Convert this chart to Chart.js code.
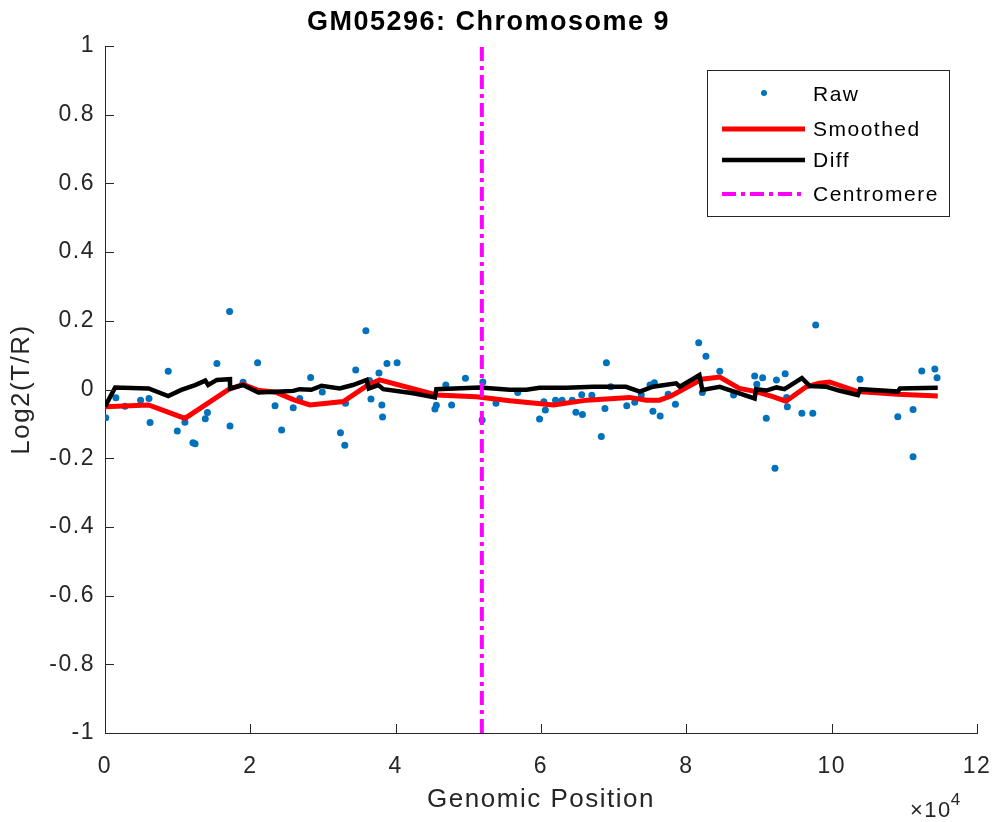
<!DOCTYPE html>
<html>
<head>
<meta charset="utf-8">
<title>GM05296: Chromosome 9</title>
<script src="https://cdn.jsdelivr.net/npm/chart.js@4.4.1/dist/chart.umd.min.js"></script>
<style>
    html, body { margin: 0; padding: 0; background: #fff; }
    #wrap { width: 993px; height: 822px; }
</style>
</head>
<body>
<div id="wrap"><canvas id="dataChart" width="993" height="822"></canvas></div>
<script>
// Raw log2 ratios (x in units of 10^4 bases)
const rawX = [0.01, 0.15, 0.275, 0.49, 0.605, 0.62, 0.87, 0.995, 1.10, 1.21, 1.24, 1.38, 1.41, 1.54, 1.715, 1.72, 1.90, 2.10,
    2.34, 2.43, 2.59, 2.68, 2.83, 2.99, 3.24, 3.30, 3.31, 3.45, 3.59, 3.64, 3.66, 3.77, 3.81, 3.82, 3.88, 4.02, 4.54, 4.56,
    4.69, 4.77, 4.96, 5.19, 5.20, 5.38, 5.68, 5.98, 6.04, 6.06, 6.20, 6.29, 6.43, 6.48, 6.56, 6.57, 6.70, 6.83, 6.88, 6.90,
    6.96, 7.18, 7.29, 7.38, 7.50, 7.54, 7.56, 7.64, 7.75, 7.85, 8.17, 8.22, 8.27, 8.46, 8.65, 8.94, 8.97, 9.05, 9.10, 9.22,
    9.24, 9.36, 9.38, 9.39, 9.59, 9.74, 9.78, 10.39, 10.91, 11.12, 11.12, 11.24, 11.42, 11.45];
const rawY = [-0.082, -0.024, -0.049, -0.031, -0.026, -0.096, 0.053, -0.121, -0.095, -0.155, -0.158, -0.085, -0.067, 0.076, 0.227, -0.106, 0.021, 0.078,
    -0.047, -0.118, -0.053, -0.026, 0.035, -0.007, -0.126, -0.162, -0.040, 0.057, 0.171, 0.026, -0.028, 0.048, -0.045, -0.080, 0.076, 0.078, -0.057, -0.046,
    0.013, -0.045, 0.033, -0.089, 0.022, -0.040, -0.009, -0.086, -0.036, -0.060, -0.031, -0.031, -0.031, -0.066, -0.015, -0.073, -0.017, -0.137, -0.055, 0.078,
    0.008, -0.047, -0.037, -0.016, 0.013, -0.063, 0.020, -0.077, -0.014, -0.043, 0.136, -0.009, 0.097, 0.053, -0.016, 0.039, 0.015, 0.034, -0.084, -0.229,
    0.028, 0.046, -0.023, -0.050, -0.069, -0.069, 0.188, 0.030, -0.079, -0.058, -0.196, 0.054, 0.060, 0.034];

// Smoothed curve
const smoothX = [0, 0.6, 1.1, 1.7, 1.9, 2.1, 2.35, 2.6, 2.82, 3.28, 3.62, 3.78, 4.56, 5.11, 5.57, 6.17, 6.63, 7.22, 7.45, 7.63,
    7.79, 8.21, 8.46, 8.73, 8.96, 9.19, 9.37, 9.65, 9.83, 9.97, 10.36, 10.91, 11.46];
const smoothY = [-0.05, -0.045, -0.084, 0.0, 0.015, -0.002, -0.008, -0.03, -0.045, -0.035, 0.013, 0.028, -0.016, -0.021, -0.033, -0.045, -0.031, -0.023, -0.031, -0.031,
    -0.019, 0.030, 0.036, 0.003, -0.006, -0.021, -0.034, 0.008, 0.018, 0.022, -0.006, -0.014, -0.019];

// Diff curve
const diffX = [0, 0.14, 0.6, 0.87, 1.05, 1.24, 1.38, 1.42, 1.54, 1.72, 1.721, 1.9, 2.11, 2.43, 2.59, 2.68, 2.84, 2.98, 3.23, 3.41,
    3.60, 3.63, 3.76, 3.83, 4.24, 4.54, 4.56, 5.16, 5.57, 5.80, 5.98, 6.35, 6.72, 7.17, 7.36, 7.54, 7.86, 7.91, 8.18, 8.22,
    8.46, 8.73, 8.94, 8.96, 9.10, 9.24, 9.35, 9.59, 9.70, 9.93, 10.1, 10.36, 10.39, 10.91, 10.94, 11.46];
const diffY = [-0.05, 0.006, 0.003, -0.019, -0.001, 0.013, 0.026, 0.013, 0.028, 0.030, 0.003, 0.013, -0.009, -0.006, -0.004, 0.001, -0.001, 0.011, 0.003, 0.013,
    0.028, 0.003, 0.013, 0.001, -0.011, -0.023, 0.001, 0.006, -0.001, -0.001, 0.005, 0.005, 0.008, 0.008, -0.006, 0.008, 0.018, 0.008, 0.042, -0.001,
    0.008, -0.011, -0.026, 0.001, -0.003, 0.006, 0.001, 0.033, 0.010, 0.008, -0.003, -0.016, 0.001, -0.006, 0.003, 0.005];

const centromereX = 5.186;
const xTicks = [0, 2, 4, 6, 8, 10, 12];
const yTicks = [-1, -0.8, -0.6, -0.4, -0.2, 0, 0.2, 0.4, 0.6, 0.8, 1];
const legendLabels = ['Raw', 'Smoothed', 'Diff', 'Centromere'];

const SCALE = 1e4;
const FONT = "'Liberation Sans', Arial, Helvetica, sans-serif";
const AXIS_COLOR = '#262626';

function toPoints(xs, ys) {
    return xs.map((x, i) => ({ x: x * SCALE, y: ys[i] }));
}

// MATLAB-like text spacing
const textSpacing = {
    id: 'textSpacing',
    beforeUpdate(chart) { chart.ctx.letterSpacing = '1.5px'; },
    beforeDraw(chart) { chart.ctx.letterSpacing = '1.5px'; }
};

// inward ticks, legend box and the x10^4 exponent
const matlabAxes = {
    id: 'matlabAxes',
    afterDraw(chart) {
        const ctx = chart.ctx;
        const area = chart.chartArea;
        const xs = chart.scales.x;
        const ys = chart.scales.y;
        ctx.save();
        ctx.strokeStyle = AXIS_COLOR;
        ctx.lineWidth = 1;
        ctx.beginPath();
        xTicks.forEach(t => {
            const px = Math.round(xs.getPixelForValue(t * SCALE)) + 0.5;
            ctx.moveTo(px, area.bottom);
            ctx.lineTo(px, area.bottom - 9);
        });
        yTicks.forEach(t => {
            const py = Math.round(ys.getPixelForValue(t)) + 0.5;
            ctx.moveTo(area.left, py);
            ctx.lineTo(area.left + 9, py);
        });
        ctx.stroke();

        // legend
        const lx = area.right - 270, ly = area.top + 24, lw = 242, lh = 146;
        ctx.fillStyle = '#fff';
        ctx.fillRect(lx, ly, lw, lh);
        ctx.strokeStyle = AXIS_COLOR;
        ctx.strokeRect(Math.round(lx) + 0.5, Math.round(ly) + 0.5, lw, lh);
        const rows = [25, 60, 91, 125];
        ctx.font = '21px ' + FONT;
        ctx.textBaseline = 'middle';
        ctx.textAlign = 'left';
        chart.data.datasets.forEach((ds, i) => {
            const y = ly + rows[i];
            if (ds.showLine) {
                ctx.strokeStyle = ds.borderColor;
                ctx.lineWidth = ds.borderWidth;
                ctx.setLineDash(ds.borderDash || []);
                ctx.beginPath();
                ctx.moveTo(lx + 15, y - 1);
                ctx.lineTo(lx + 98, y - 1);
                ctx.stroke();
                ctx.setLineDash([]);
            } else {
                ctx.fillStyle = ds.backgroundColor;
                ctx.beginPath();
                ctx.arc(lx + 57, y - 2, 3, 0, Math.PI * 2);
                ctx.fill();
            }
            ctx.fillStyle = '#000';
            ctx.fillText(ds.label, lx + 106, y);
        });

        // exponent label
        ctx.fillStyle = AXIS_COLOR;
        ctx.textBaseline = 'alphabetic';
        ctx.font = '22px ' + FONT;
        ctx.fillText('\u00d710', 910, 817);
        const w = ctx.measureText('\u00d710').width;
        ctx.font = '17px ' + FONT;
        ctx.fillText('4', 909 + w, 805);
        ctx.restore();
    }
};

const ctx = document.getElementById('dataChart').getContext('2d');

new Chart(ctx, {
    type: 'scatter',
    data: {
        datasets: [{
            label: legendLabels[0],
            data: toPoints(rawX, rawY),
            backgroundColor: '#0072BD',
            borderColor: '#0072BD',
            pointRadius: 3.5,
            pointBorderWidth: 0,
            showLine: false,
            order: 4
        }, {
            label: legendLabels[1],
            data: toPoints(smoothX, smoothY),
            borderColor: '#FF0000',
            backgroundColor: '#FF0000',
            borderWidth: 5,
            pointRadius: 0,
            showLine: true,
            order: 3
        }, {
            label: legendLabels[2],
            data: toPoints(diffX, diffY),
            borderColor: '#000000',
            backgroundColor: '#000000',
            borderWidth: 4.5,
            pointRadius: 0,
            showLine: true,
            order: 2
        }, {
            label: legendLabels[3],
            data: [{ x: centromereX * SCALE, y: -1 }, { x: centromereX * SCALE, y: 1 }],
            borderColor: '#FF00FF',
            backgroundColor: '#FF00FF',
            borderWidth: 4,
            borderDash: [14, 5, 4, 5],
            pointRadius: 0,
            showLine: true,
            order: 1
        }]
    },
    options: {
        responsive: false,
        animation: false,
        devicePixelRatio: 1,
        layout: { padding: { left: 0, right: 16, top: 0, bottom: 0 } },
        plugins: {
            legend: { display: false },
            tooltip: { enabled: false },
            title: {
                display: true,
                text: 'GM05296: Chromosome 9',
                color: '#000',
                font: { family: FONT, size: 27, weight: 'bold', lineHeight: 1.2 },
                padding: { top: 6, bottom: 7.6 }
            }
        },
        scales: {
            x: {
                type: 'linear',
                min: 0,
                max: 12 * SCALE,
                afterFit(scale) {
                    scale.height = 89;
                    scale.paddingLeft = 0;
                    scale.paddingRight = 0;
                },
                afterBuildTicks(scale) { scale.ticks = xTicks.map(v => ({ value: v * SCALE })); },
                grid: { display: false, drawTicks: false },
                border: { display: true, color: AXIS_COLOR, width: 1 },
                ticks: {
                    color: AXIS_COLOR,
                    font: { family: FONT, size: 23 },
                    padding: 20,
                    maxRotation: 0,
                    autoSkip: false,
                    callback: v => String(Math.round(v / SCALE))
                },
                title: {
                    display: true,
                    text: 'Genomic Position',
                    color: AXIS_COLOR,
                    font: { family: FONT, size: 26, lineHeight: 1.2 },
                    padding: { top: 0, bottom: 6.4 }
                }
            },
            y: {
                min: -1,
                max: 1,
                afterFit(scale) {
                    scale.width = 105;
                    scale.paddingTop = 0;
                    scale.paddingBottom = 0;
                },
                afterBuildTicks(scale) { scale.ticks = yTicks.map(v => ({ value: v })); },
                grid: { display: false, drawTicks: false },
                border: { display: true, color: AXIS_COLOR, width: 1 },
                ticks: {
                    color: AXIS_COLOR,
                    font: { family: FONT, size: 23 },
                    padding: 10,
                    autoSkip: false,
                    callback: v => String(Math.round(v * 10) / 10)
                },
                title: {
                    display: true,
                    text: 'Log2(T/R)',
                    color: AXIS_COLOR,
                    font: { family: FONT, size: 26, lineHeight: 1.2 },
                    padding: { top: 6.4, bottom: 0 }
                }
            }
        }
    },
    plugins: [textSpacing, matlabAxes]
});
</script>
</body>
</html>
